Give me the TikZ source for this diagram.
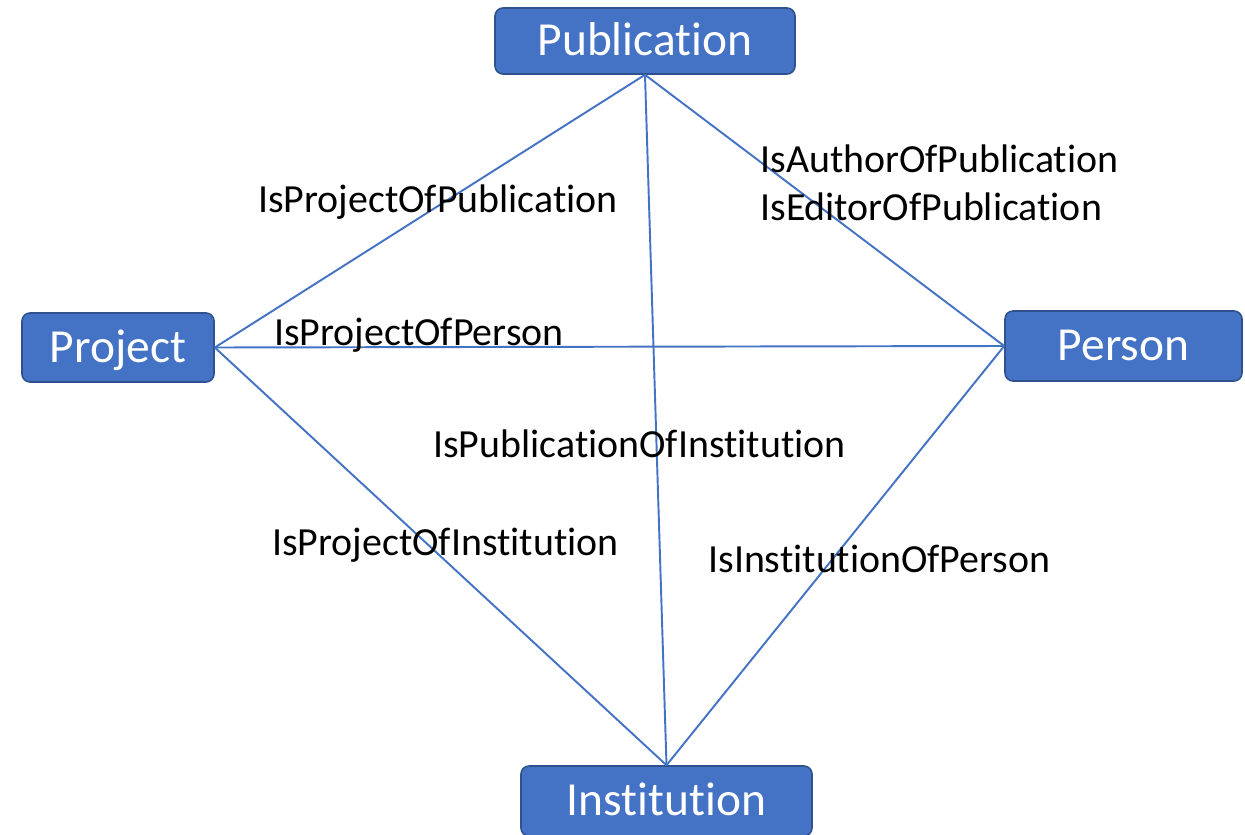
\documentclass[tikz,border=0pt]{standalone}
\usepackage{fontspec}
\setmainfont{Carlito}[Ligatures=CommonOff]
\usetikzlibrary{positioning}
\definecolor{boxblue}{HTML}{4472C4}
\definecolor{boxedge}{HTML}{2F528F}
\tikzset{
  entity/.style={draw=boxedge, fill=boxblue, line width=0.9pt, rounded corners=0.16cm,
    text=white, font=\fontsize{27}{30}\selectfont, text height=17pt, text depth=0pt,
    inner sep=0pt},
  relation/.style={anchor=base west, inner sep=0pt, font=\fontsize{22.7}{27}\selectfont},
  link/.style={draw=boxblue, line width=1.1pt}
}

\begin{document}
\begin{tikzpicture}[x=0.02cm, y=-0.02cm]
      %page frame, same size as the original figure
    \useasboundingbox (0,0) rectangle (1245,835);
      %the four entities
    \node[entity, minimum width=300*0.02cm, minimum height=66*0.02cm] (pub) at (645,41) {Publication};
    \node[entity, minimum width=192*0.02cm, minimum height=69*0.02cm] (proj) at (118,347.5) {Project};
    \node[entity, minimum width=237*0.02cm, minimum height=70*0.02cm] (pers) at (1123.5,346) {Person};
    \node[entity, minimum width=291*0.02cm, minimum height=70*0.02cm] (inst) at (666.5,801) {Institution};
      %links between them
    \draw[link] (pub.south) -- (proj.east);
    \draw[link] (pub.south) -- (pers.west);
    \draw[link] (pub.south) -- (inst.north);
    \draw[link] (proj.east) -- (pers.west);
    \draw[link] (proj.east) -- (inst.north);
    \draw[link] (pers.west) -- (inst.north);
      %relation names
    \node[relation] (projpub) at (258,212) {IsProjectOfPublication};
    \node[relation] (authpub) at (760,172) {IsAuthorOfPublication};
    \node[relation] (editpub) at (760,220) {IsEditorOfPublication};
    \node[relation] (projpers) at (274,345) {IsProjectOfPerson};
    \node[relation] (pubinst) at (433,457) {IsPublicationOfInstitution};
    \node[relation] (projinst) at (272,555) {IsProjectOfInstitution};
    \node[relation] (instpers) at (708,572) {IsInstitutionOfPerson};
\end{tikzpicture}
\end{document}
